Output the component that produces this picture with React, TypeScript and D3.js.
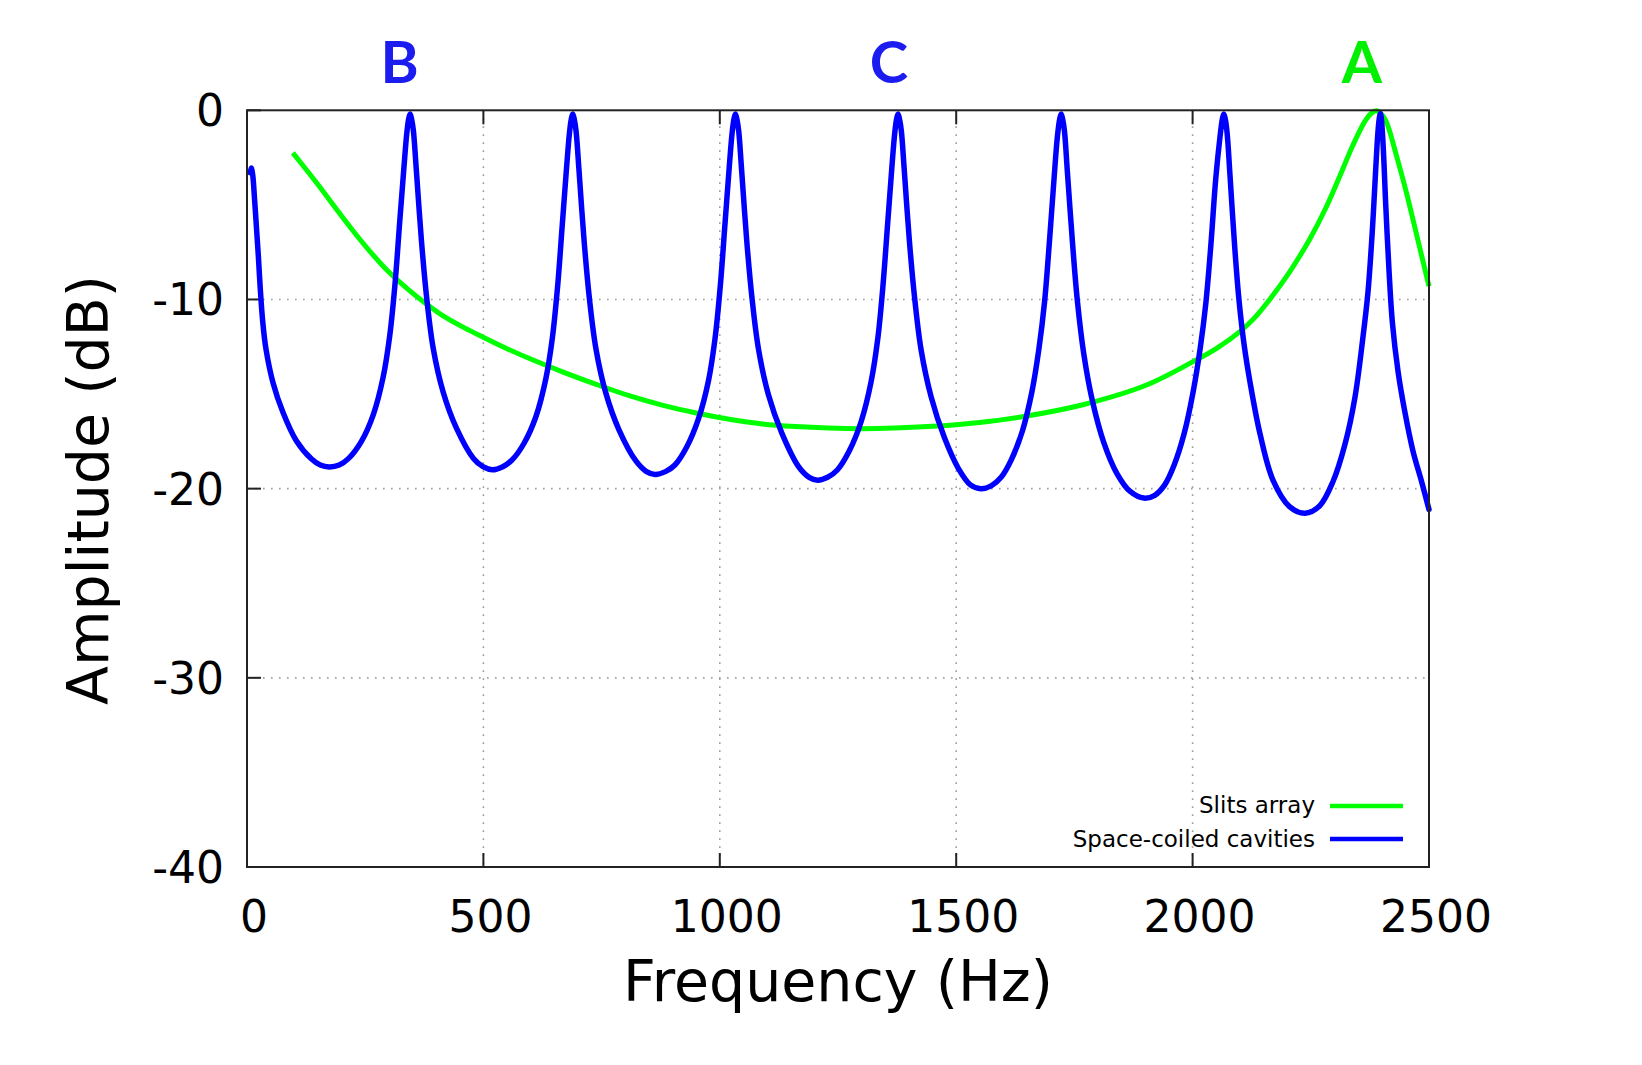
import React from "react";
import * as d3 from "d3";

// ---- data ----
const xTicks = [0, 500, 1000, 1500, 2000, 2500];
const yTicks = [0, -10, -20, -30, -40];
const xGrid = [500, 1000, 1500, 2000];
const yGrid = [-10, -20, -30];

// Slits array: [frequency Hz, amplitude dB]
const slitsArray: [number, number][] = [
  [97, -2.25], [125, -3.13], [160, -4.25], [195, -5.42], [230, -6.55], [265, -7.6],
  [300, -8.55], [340, -9.45], [380, -10.25], [420, -10.95], [460, -11.5], [500, -12.0],
  [550, -12.6], [600, -13.15], [670, -13.85], [740, -14.5], [810, -15.1], [880, -15.6],
  [950, -16.0], [1020, -16.33], [1090, -16.58], [1160, -16.72], [1230, -16.8], [1300, -16.83],
  [1370, -16.8], [1440, -16.72], [1550, -16.5], [1640, -16.2], [1770, -15.55], [1900, -14.55],
  [2000, -13.3], [2050, -12.6], [2100, -11.7], [2130, -11.0], [2163, -10.0], [2205, -8.55],
  [2248, -6.8], [2283, -5.1], [2311, -3.5], [2339, -1.85], [2364, -0.6], [2377, -0.18],
  [2389, -0.03], [2400, -0.22], [2410, -0.62], [2431, -2.38], [2452, -4.32], [2474, -6.6],
  [2500, -9.3],
];

// Space-coiled cavities: [frequency Hz, amplitude dB]
const spaceCoiled: [number, number][] = [
  [7, -3.3], [9, -3.05], [12, -3.4], [16, -4.7], [20, -6.2], [24, -7.7], [28, -9.4], [33, -11.1],
  [40, -12.6], [55, -14.4], [76, -15.96], [104, -17.45], [136, -18.42], [155, -18.75], [174, -18.85],
  [195, -18.75], [215, -18.4], [242, -17.5], [267, -16.1], [288, -14.1], [302, -11.9], [313, -9.2],
  [323, -5.9], [332, -3.0], [338, -1.2], [342, -0.45], [345, -0.2],
  [348, -0.45], [352, -1.1], [358, -3.1], [369, -6.9], [380, -9.9], [394, -12.6], [415, -14.9],
  [443, -16.8], [479, -18.4], [500, -18.85], [519, -19.0],
  [540, -18.85], [560, -18.5], [586, -17.6], [611, -16.2], [632, -14.2], [646, -12.0], [657, -9.3],
  [667, -6.0], [676, -3.0], [682, -1.2], [686, -0.45], [689, -0.2],
  [692, -0.45], [696, -1.1], [702, -3.1], [713, -6.9], [724, -9.9], [738, -12.6], [759, -14.95],
  [787, -16.9], [823, -18.55], [845, -19.1], [863, -19.25],
  [885, -19.1], [905, -18.75], [930, -17.8], [955, -16.3], [976, -14.3], [990, -12.05], [1001, -9.3],
  [1011, -6.0], [1020, -3.0], [1026, -1.2], [1030, -0.45], [1033, -0.2],
  [1036, -0.45], [1040, -1.1], [1046, -3.1], [1057, -6.9], [1068, -9.9], [1082, -12.65], [1103, -15.05],
  [1131, -17.05], [1167, -18.85], [1189, -19.4], [1207, -19.55],
  [1228, -19.4], [1249, -19.0], [1274, -18.0], [1299, -16.45], [1320, -14.35], [1334, -12.1], [1345, -9.3],
  [1355, -6.0], [1364, -3.0], [1370, -1.2], [1374, -0.45], [1377, -0.2],
  [1380, -0.45], [1384, -1.1], [1390, -3.1], [1401, -6.9], [1412, -9.9], [1426, -12.7], [1447, -15.15],
  [1475, -17.3], [1505, -18.95], [1530, -19.8], [1552, -20.0],
  [1574, -19.85], [1595, -19.4], [1617, -18.45], [1640, -16.95], [1660, -14.9], [1675, -12.6], [1687, -10.1],
  [1697, -7.0], [1707, -3.6], [1714, -1.4], [1719, -0.45], [1722, -0.2],
  [1725, -0.45], [1729, -1.1], [1735, -3.2], [1746, -7.0], [1756, -10.0], [1770, -12.9], [1788, -15.35],
  [1812, -17.55], [1840, -19.2], [1868, -20.15], [1897, -20.5],
  [1920, -20.35], [1941, -19.8], [1961, -18.75], [1982, -17.1], [2001, -14.9], [2016, -12.6], [2028, -10.2],
  [2039, -7.0], [2049, -3.6], [2058, -1.4], [2063, -0.45], [2066, -0.2],
  [2069, -0.45], [2073, -1.2], [2079, -3.4], [2089, -7.2], [2098, -10.0], [2109, -12.4], [2122, -14.45],
  [2143, -17.15], [2170, -19.55], [2205, -20.95], [2238, -21.3],
  [2269, -20.9], [2297, -19.62], [2322, -17.68], [2343, -15.23], [2360, -12.06], [2371, -9.59],
  [2380, -6.42], [2387, -3.25], [2392, -1.14], [2395, -0.4], [2397, -0.17],
  [2399, -0.4], [2403, -1.85], [2408.5, -5.0], [2415.5, -8.5], [2422.5, -11.2], [2434.5, -13.8],
  [2448.6, -15.9], [2466, -18.0], [2484, -19.6], [2500, -21.1],
];

const peakLabels = [
  { text: "B", f: 323, color: "#1c1cf0" },
  { text: "C", f: 1358, color: "#1c1cf0" },
  { text: "A", f: 2358, color: "#00f000" },
];

const legendItems = [
  { label: "Slits array", color: "#00ff00" },
  { label: "Space-coiled cavities", color: "#0000ff" },
];

// ---- layout ----
const W = 1642;
const H = 1065;
const plotLeft = 247;
const plotRight = 1429;
const plotTop = 110.3;
const plotBottom = 867;

export default function App() {
  const x = d3.scaleLinear().domain([0, 2500]).range([plotLeft, plotRight]);
  const y = d3.scaleLinear().domain([-40, 0]).range([plotBottom, plotTop]);
  const line = d3
    .line<[number, number]>()
    .x((d) => x(d[0]))
    .y((d) => y(d[1]))
    .curve(d3.curveCatmullRom.alpha(0.5));

  const tickFont = "'DejaVu Sans', Verdana, sans-serif";
  const tickLen = 14;

  return (
    <div style={{ position: "absolute", left: 0, top: 0, width: W, height: H, background: "#fff" }}>
      <svg width={W} height={H} viewBox={`0 0 ${W} ${H}`} style={{ display: "block" }}>
        <defs>
          <clipPath id="plotClip">
            <rect x={plotLeft} y={plotTop - 6} width={plotRight - plotLeft + 4} height={plotBottom - plotTop + 6} />
          </clipPath>
        </defs>
        <rect x={0} y={0} width={W} height={H} fill="#fff" />

        {/* grid */}
        {xGrid.map((v) => (
          <line key={"gx" + v} x1={x(v)} x2={x(v)} y1={plotTop} y2={plotBottom}
            stroke="#a0a0a0" strokeWidth={1.6} strokeDasharray="1.6 6.4" />
        ))}
        {yGrid.map((v) => (
          <line key={"gy" + v} x1={plotLeft} x2={plotRight} y1={y(v)} y2={y(v)}
            stroke="#a0a0a0" strokeWidth={1.6} strokeDasharray="1.6 6.4" />
        ))}

        {/* ticks */}
        {xTicks.map((v) => (
          <g key={"tx" + v}>
            <line x1={x(v)} x2={x(v)} y1={plotBottom} y2={plotBottom - tickLen} stroke="#222" strokeWidth={2} />
            <line x1={x(v)} x2={x(v)} y1={plotTop} y2={plotTop + tickLen} stroke="#222" strokeWidth={2} />
            <text x={x(v) + 7} y={932} textAnchor="middle" fontFamily={tickFont} fontSize={44} fill="#000">
              {v}
            </text>
          </g>
        ))}
        {yTicks.map((v) => (
          <g key={"ty" + v}>
            <line x1={plotLeft} x2={plotLeft + tickLen} y1={y(v)} y2={y(v)} stroke="#222" strokeWidth={2} />
            <text x={224} y={y(v) + 16} textAnchor="end" fontFamily={tickFont} fontSize={44} fill="#000">
              {v}
            </text>
          </g>
        ))}

        {/* series */}
        <g clipPath="url(#plotClip)">
          <path d={line(slitsArray) || ""} fill="none" stroke="#00ff00" strokeWidth={5}
            strokeLinejoin="round" strokeLinecap="butt" />
          <path d={line(spaceCoiled) || ""} fill="none" stroke="#0000ff" strokeWidth={5.5}
            strokeLinejoin="round" strokeLinecap="round" />
        </g>

        {/* frame */}
        <rect x={plotLeft} y={plotTop} width={plotRight - plotLeft} height={plotBottom - plotTop}
          fill="none" stroke="#222" strokeWidth={2} />

        {/* legend */}
        {legendItems.map((item, i) => (
          <g key={item.label}>
            <text x={1315} y={813.3 + i * 33.4} textAnchor="end" fontFamily={tickFont} fontSize={23} fill="#000">
              {item.label}
            </text>
            <line x1={1330} x2={1403} y1={806 + i * 33} y2={806 + i * 33} stroke={item.color} strokeWidth={4.5} />
          </g>
        ))}

        {/* peak labels */}
        {peakLabels.map((p) => (
          <text key={p.text} x={x(p.f)} y={83} textAnchor="middle"
            fontFamily="Lato, 'Open Sans', sans-serif" fontWeight={700} fontSize={58} fill={p.color}>
            {p.text}
          </text>
        ))}

        {/* axis titles */}
        <text x={(plotLeft + plotRight) / 2} y={1000.7} textAnchor="middle" fontFamily={tickFont} fontSize={57} fill="#000">
          Frequency (Hz)
        </text>
        <text transform={`translate(108, 490) rotate(-90)`} textAnchor="middle" fontFamily={tickFont} fontSize={57} fill="#000">
          Amplitude (dB)
        </text>
      </svg>
    </div>
  );
}
